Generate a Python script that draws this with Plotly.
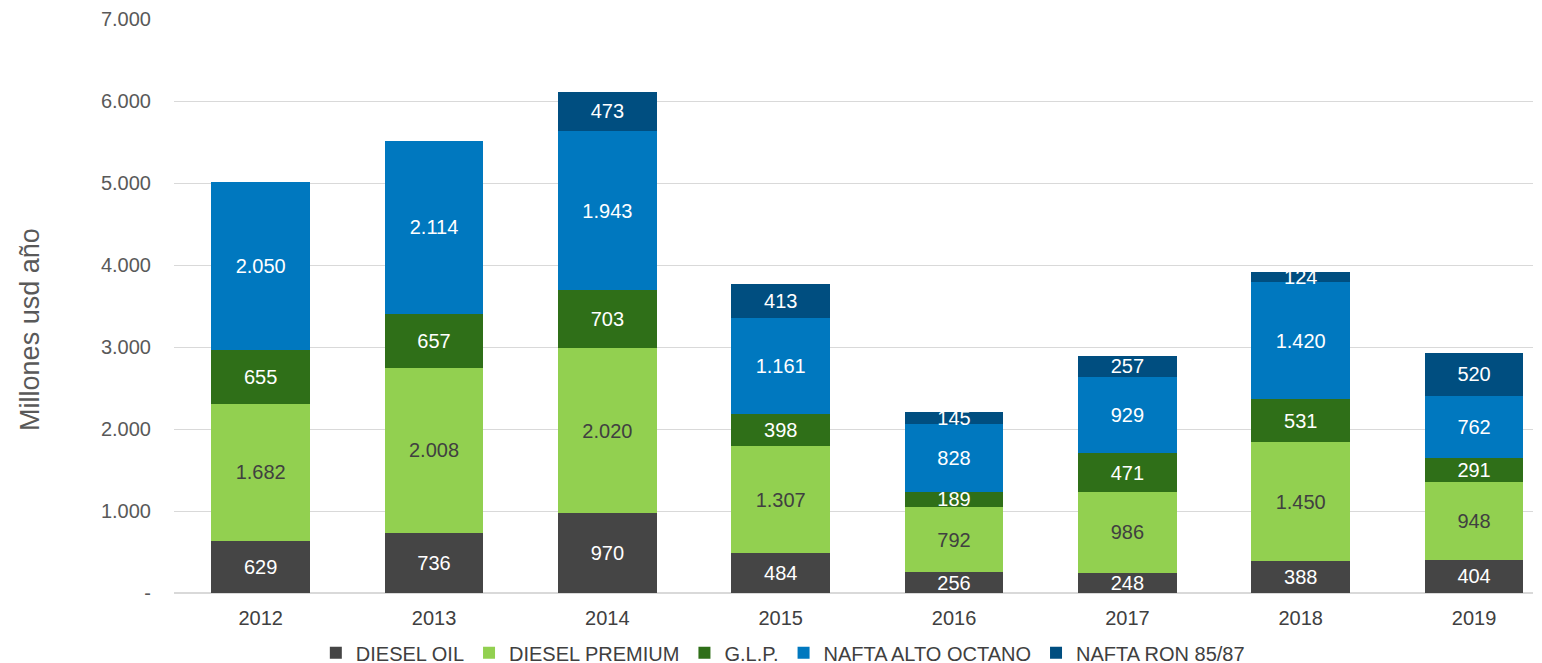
import plotly.graph_objects as go

years = ["2012", "2013", "2014", "2015", "2016", "2017", "2018", "2019"]
diesel_oil = [629, 736, 970, 484, 256, 248, 388, 404]
diesel_premium = [1682, 2008, 2020, 1307, 792, 986, 1450, 948]
glp = [655, 657, 703, 398, 189, 471, 531, 291]
nafta_alto = [2050, 2114, 1943, 1161, 828, 929, 1420, 762]
nafta_ron = [None, None, 473, 413, 145, 257, 124, 520]

series_names = ["DIESEL OIL", "DIESEL PREMIUM", "G.L.P.", "NAFTA ALTO OCTANO", "NAFTA RON 85/87"]
series_values = [diesel_oil, diesel_premium, glp, nafta_alto, nafta_ron]
colors = ["#454545", "#92d050", "#2f6f18", "#0078bf", "#004e80"]
text_colors = ["#ffffff", "#404040", "#ffffff", "#ffffff", "#ffffff"]

y_tickvals = [0, 1000, 2000, 3000, 4000, 5000, 6000, 7000]
y_ticktext = ["-", "1.000", "2.000", "3.000", "4.000", "5.000", "6.000", "7.000"]
y_title = "Millones usd año"

FONT = "Liberation Sans, Arial, sans-serif"

fig = go.Figure()
for name, vals, col, tcol in zip(series_names, series_values, colors, text_colors):
    fig.add_trace(go.Bar(
        x=years, y=vals, name=name,
        marker=dict(color=col, line=dict(width=0)),
        texttemplate="%{y:,.0f}",
        textposition="inside",
        insidetextanchor="middle",
        textangle=0,
        textfont=dict(family=FONT, size=20, color=tcol),
        hoverinfo="x+y+name",
    ))

# page body has an 8px margin; figure sized to fit the 1542x663 window
fig.update_layout(
    barmode="stack",
    bargap=0.43,
    separators=",.",
    width=1534, height=655,
    margin=dict(l=166, r=9, t=11, b=70, autoexpand=False),
    paper_bgcolor="white", plot_bgcolor="white",
    font=dict(family=FONT, size=20, color="#404040"),
    uniformtext=dict(minsize=20, mode="show"),
    showlegend=True,
    legend=dict(
        orientation="h", x=0.448, xanchor="center", y=-0.104, yanchor="middle",
        font=dict(family=FONT, size=20, color="#404040"),
        itemwidth=30, traceorder="normal",
    ),
    xaxis=dict(
        type="category", range=[-0.5, 7.34],
        showgrid=False, zeroline=False, showline=False,
        tickfont=dict(family=FONT, size=20, color="#404040"),
        ticks="", ticklabelstandoff=11, fixedrange=True,
    ),
    yaxis=dict(
        range=[0, 7000], tickvals=y_tickvals, ticktext=y_ticktext,
        showgrid=True, gridcolor="#d9d9d9", gridwidth=1,
        zeroline=True, zerolinecolor="#d9d9d9", zerolinewidth=1.5,
        showline=False, ticks="",
        ticklabelstandoff=22,
        tickfont=dict(family=FONT, size=20, color="#595959"),
        automargin=False,
    ),
    annotations=[dict(
        text=y_title, xref="paper", yref="paper",
        x=-0.106, y=0.46, xanchor="center", yanchor="middle",
        textangle=-90, showarrow=False,
        font=dict(family=FONT, size=27, color="#595959"),
    )],
)

fig.write_html("out.html")
